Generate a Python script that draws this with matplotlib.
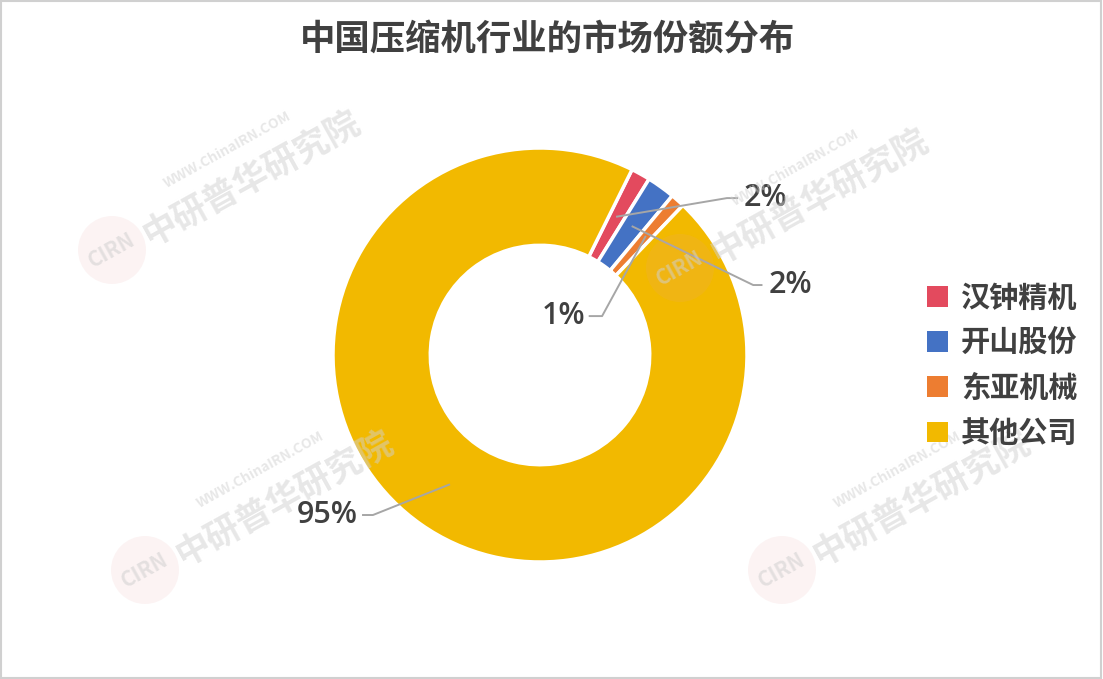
import numpy as np
import matplotlib.pyplot as plt
from matplotlib.patches import Patch, Rectangle, Circle

plt.rcParams['font.family'] = ['Noto Sans CJK SC', 'DejaVu Sans']

title = '中国压缩机行业的市场份额分布'
companies = ['汉钟精机', '开山股份', '东亚机械', '其他公司']
shares = [1.5, 2.2, 1.1, 95.2]
colors = ['#e34a5e', '#4472c4', '#ed7d31', '#f2b900']

# label layout (axes data units): elbow x, end x, text x, y, alignment
label_layout = [
    (0.903, 0.952, 0.985, 0.758, 'left'),
    (1.03, 1.07, 1.105, 0.338, 'left'),
    (0.30, 0.24, 0.22, 0.188, 'right'),
    (-0.807, -0.855, -0.88, -0.773, 'right'),
]

W, H = 1103, 679
fig = plt.figure(figsize=(W / 100, H / 100), dpi=100)
fig.patch.set_facecolor('white')

ax = fig.add_axes([333 / W, (H - 562) / H, 414 / W, 414 / H])
wedges, _ = ax.pie(shares, colors=colors, startangle=90 - 26.4, counterclock=False,
                   radius=1, wedgeprops=dict(width=0.47, edgecolor='white', linewidth=2.5))
ax.set_xlim(-1, 1)
ax.set_ylim(-1, 1)
ax.set_aspect('equal')
ax.axis('off')

for w, v, (ex, endx, tx, ty, ha) in zip(wedges, shares, label_layout):
    mid = np.deg2rad((w.theta1 + w.theta2) / 2)
    sx, sy = 0.765 * np.cos(mid), 0.765 * np.sin(mid)
    ax.plot([sx, ex, endx], [sy, ty, ty], color='#a6a6a6', lw=1.4,
            clip_on=False, zorder=5)
    ax.text(tx, ty, f'{round(v):.0f}%', ha=ha, va='center', fontsize=22,
            family=['Open Sans', 'DejaVu Sans'], fontweight='semibold',
            color='#404040', clip_on=False, zorder=6)

fig.text(0.496, 0.941, title, ha='center', va='center', fontsize=25.5,
         fontweight='bold', color='#404040')

handles = [Patch(facecolor=c, edgecolor='none') for c in colors]
fig.legend(handles, companies, loc='center left', bbox_to_anchor=(0.817, 0.462),
           frameon=False, handlelength=0.7, handleheight=0.7,
           handletextpad=0.45, labelspacing=0.52,
           prop=dict(weight='bold', size=21))
for t in fig.legends[0].get_texts():
    t.set_color('#404040')

# faint watermarks
for cx, cy in [(112, 250), (680, 268), (145, 570), (782, 570)]:
    fx, fy = cx / W, 1 - cy / H
    fig.patches.append(Circle((cx, H - cy), 34, transform=None,
                              facecolor='#e8a0a0', alpha=0.12, edgecolor='none'))
    fig.text(fx, fy, 'CIRN', rotation=29, ha='center', va='center', fontsize=15,
             fontweight='bold', style='italic', color='#d0d0d0', alpha=0.55)
    fig.text(fx + 140 / W, fy + 72 / H, '中研普华研究院', rotation=29, ha='center',
             va='center', fontsize=25, fontweight='bold', color='#d0d0d0', alpha=0.5)
    fig.text(fx + 115 / W, fy + 100 / H, 'WWW.ChinaIRN.COM', rotation=29, ha='center',
             va='center', fontsize=10, fontweight='bold', color='#d0d0d0', alpha=0.5)

fig.patches.append(Rectangle((0.001, 0.001), 0.997, 0.997, transform=fig.transFigure,
                             fill=False, edgecolor='#d0d0d0', lw=1.5))

fig.savefig('out.png', dpi=100)
